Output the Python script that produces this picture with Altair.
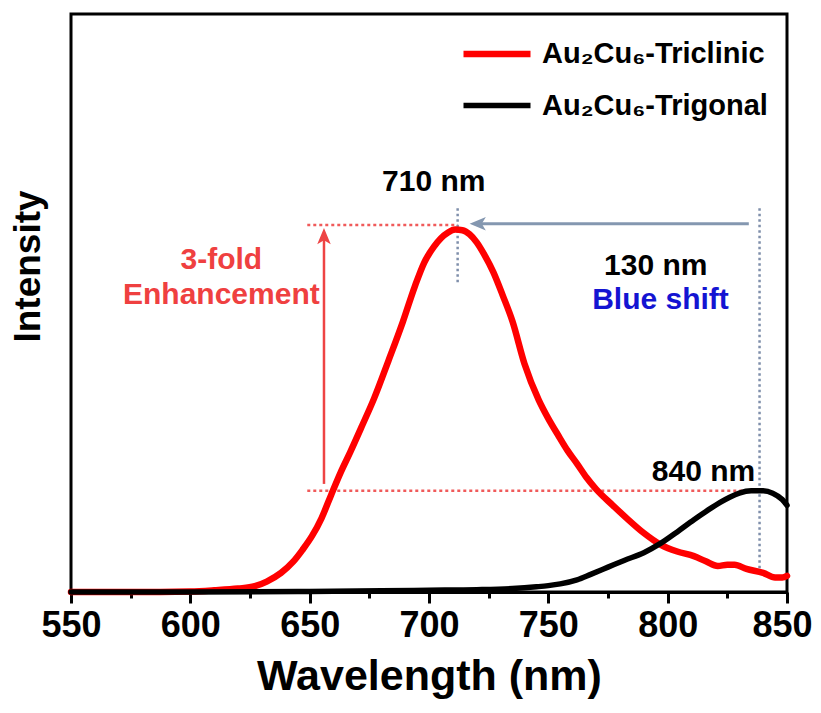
import altair as alt
import pandas as pd

# ---------------- data ----------------
series_names = ["Au₂Cu₆-Triclinic", "Au₂Cu₆-Trigonal"]
series_colors = ["#ff0000", "#000000"]
series_widths = [6.5, 5.5]

tri_wl = [550, 575, 600, 610, 620, 627, 632, 638, 643, 647, 651, 655, 659, 663, 667,
          672, 677, 683, 689, 694, 698, 702, 705, 708, 711, 714, 717, 720, 723, 727,
          731, 735, 740, 746, 750, 754, 758, 762, 766, 770, 777, 783, 790, 797, 804, 811,
          816, 821, 825, 828, 833, 840, 845, 848, 850]
tri_int = [0, 0, 0.001, 0.003, 0.006, 0.010, 0.018, 0.033, 0.052, 0.073, 0.097, 0.128, 0.168, 0.207, 0.242,
           0.288, 0.335, 0.40, 0.467, 0.528, 0.570, 0.597, 0.612, 0.622, 0.627, 0.626, 0.619, 0.605, 0.585, 0.553,
           0.512, 0.468, 0.395, 0.332, 0.30, 0.272, 0.245, 0.222, 0.198, 0.178, 0.15, 0.127, 0.102, 0.082, 0.07, 0.062,
           0.053, 0.045, 0.047, 0.047, 0.040, 0.033, 0.025, 0.025, 0.028]

trig_wl = [550, 600, 650, 680, 700, 720, 735, 745, 750, 755, 762, 768, 775, 782, 790,
           797, 804, 811, 817, 822, 826, 830, 835, 840, 844, 848, 850]
trig_int = [0, 0, 0.001, 0.002, 0.003, 0.004, 0.006, 0.009, 0.011, 0.014, 0.021, 0.031, 0.043, 0.055, 0.068,
            0.084, 0.104, 0.125, 0.142, 0.155, 0.164, 0.171, 0.175, 0.175, 0.171, 0.160, 0.150]

# annotation texts
ann_text = ["710 nm", "130 nm", "Blue shift", "3-fold", "Enhancement", "840 nm"]
ann_x = [702, 795, 797, 613, 613, 815]
ann_y = [0.709, 0.564, 0.505, 0.574, 0.514, 0.208]
ann_color = ["#000000", "#000000", "#1414d2", "#ef4040", "#ef4040", "#000000"]

# guide lines (x, x2, y, y2)
dot_red = {"x": [649, 649], "x2": [712, 840], "y": [0.635, 0.175], "y2": [0.635, 0.175]}
dot_gray = {"x": [712, 838.5], "x2": [712, 838.5], "y": [0.664, 0.664], "y2": [0.533, 0.038]}
arrow_red = {"x": [656], "x2": [656], "y": [0.187], "y2": [0.614]}
arrow_gray = {"x": [834], "x2": [721], "y": [0.637], "y2": [0.637]}
head_red = {"x": [656], "y": [0.614]}
head_gray = {"x": [720.8], "y": [0.637]}

FONT = "Liberation Sans"

# ---------------- chart ----------------
df = pd.concat([
    pd.DataFrame({"wl": tri_wl, "inten": tri_int, "series": series_names[0]}),
    pd.DataFrame({"wl": trig_wl, "inten": trig_int, "series": series_names[1]}),
])

xscale = alt.Scale(domain=[550, 850], nice=False, zero=False)
yscale = alt.Scale(domain=[0, 1], nice=False)

xaxis = alt.Axis(
    values=list(range(550, 851, 25)),
    labelExpr="datum.value % 50 == 0 ? datum.label : ''",
    tickSize={"condition": {"test": "datum.value % 50 == 0", "value": 11}, "value": 6},
    labelOffset={"condition": {"test": "datum.value == 850", "value": -5}, "value": 0},
    tickWidth=3, tickColor="black", domainColor="black", domainWidth=3,
    labelFont=FONT, labelFontSize=36, labelFontWeight="bold", labelColor="black",
    labelPadding=5, labelFlush=False, labelOverlap=False, grid=False,
    title="Wavelength (nm)", titleFont=FONT, titleFontSize=43, titleFontWeight="bold",
    titleColor="black", titlePadding=12,
)
yaxis = alt.Axis(
    labels=False, ticks=False, domain=False, grid=False,
    title="Intensity", titleFont=FONT, titleFontSize=37, titleFontWeight="bold",
    titleColor="black", titleAngle=270, titleX=-43, titleY=252,
    titleAlign="center", titleBaseline="middle",
)

lines = alt.Chart(df).mark_line(strokeJoin="round", strokeCap="round", interpolate="monotone").encode(
    x=alt.X("wl:Q", scale=xscale, axis=xaxis),
    y=alt.Y("inten:Q", scale=yscale, axis=yaxis),
    color=alt.Color(
        "series:N",
        scale=alt.Scale(domain=series_names, range=series_colors),
        legend=alt.Legend(
            orient="none", legendX=389, legendY=3, title=None, padding=0,
            symbolType="stroke", symbolSize=4489, symbolStrokeWidth=5.5,
            labelFont=FONT, labelFontSize=29, labelFontWeight="bold", labelColor="black",
            labelOffset=8, rowPadding=-9, labelLimit=400,
        ),
    ),
    strokeWidth=alt.StrokeWidth(
        "series:N", scale=alt.Scale(domain=series_names, range=series_widths), legend=None
    ),
    order=alt.Order("wl:Q"),
)


def rules(d, color, dash=None, width=2.5):
    kw = {"color": color, "strokeWidth": width}
    if dash:
        kw["strokeDash"] = dash
    return alt.Chart(pd.DataFrame(d)).mark_rule(**kw).encode(
        x=alt.X("x:Q", scale=xscale), x2="x2:Q",
        y=alt.Y("y:Q", scale=yscale), y2="y2:Q",
    )


red_dots = rules(dot_red, "#f05a5a", [3, 3], 2.5)
gray_dots = rules(dot_gray, "#7f8fab", [2.5, 3], 2.5)
red_shaft = rules(arrow_red, "#ee4444", None, 2.5)
gray_shaft = rules(arrow_gray, "#8497b0", None, 3)

UP = "M0,-1L0.75,0.8L0,0.35L-0.75,0.8Z"
LEFT = "M-1,0L0.8,-0.75L0.35,0L0.8,0.75Z"

red_head = alt.Chart(pd.DataFrame(head_red)).mark_point(
    shape=UP, filled=True, size=324, color="#ee4444", opacity=1
).encode(x=alt.X("x:Q", scale=xscale), y=alt.Y("y:Q", scale=yscale))
gray_head = alt.Chart(pd.DataFrame(head_gray)).mark_point(
    shape=LEFT, filled=True, size=324, color="#8497b0", opacity=1
).encode(x=alt.X("x:Q", scale=xscale), y=alt.Y("y:Q", scale=yscale))

texts = alt.Chart(pd.DataFrame({"t": ann_text, "x": ann_x, "y": ann_y, "c": ann_color})).mark_text(
    font=FONT, fontWeight="bold", fontSize=30, align="center", baseline="middle"
).encode(
    x=alt.X("x:Q", scale=xscale), y=alt.Y("y:Q", scale=yscale),
    text="t:N", color=alt.Color("c:N", scale=None),
)

chart = alt.layer(
    red_dots, gray_dots, red_shaft, gray_shaft, red_head, gray_head, lines, texts
).properties(
    width=716, height=578,
    padding={"left": 63, "top": 6, "right": 26, "bottom": 113},
    autosize=alt.AutoSizeParams(type="none"),
    background="white",
).configure_view(
    stroke="black", strokeWidth=3
)

chart.save("out.html", embed_options={"renderer": "svg", "actions": False})
